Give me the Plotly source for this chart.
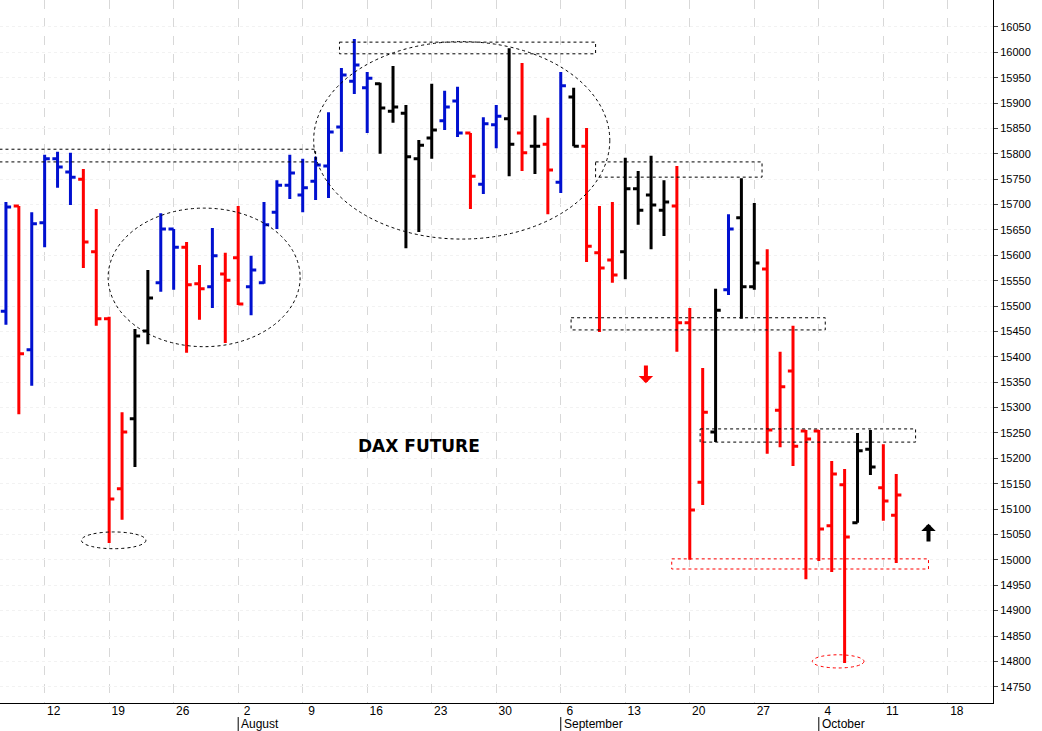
import pandas as pd
import plotly.graph_objects as go

# trading days, 7 Jul 2021 .. 12 Oct 2021
dates = pd.bdate_range("2021-07-07", periods=70)

opens = [15490, 15697, 15414, 15664, 15790, 15764, 15750, 15607, 15475, 15140,
         15278, 15451, 15546, 15652, 15616, 15544, 15538, 15563, 15595, 15538,
         15546, 15685, 15738, 15719, 15746, 15776, 15853, 15943, 15930, 15938,
         15884, 15880, 15790, 15831, 15865, 15904, 15841, 15740, 15857, 15869,
         15841, 15815, 15819, 15744, 15912, 15815, 15605, 15591, 15607, 15731,
         15719, 15689, 15697, 15467, 15153, 15252, 15532, 15674, 15538, 15573,
         15295, 15372, 15254, 15254, 15067, 15148, 15073, 15218, 15142, 15088]
highs = [15705, 15697, 15685, 15798, 15804, 15802, 15770, 15691, 15479, 15291,
         15455, 15571, 15683, 15652, 15626, 15581, 15654, 15605, 15697, 15599,
         15705, 15748, 15798, 15790, 15794, 15882, 15969, 16026, 15961, 15940,
         15973, 15896, 15827, 15938, 15924, 15932, 15841, 15872, 15896, 16008,
         15979, 15876, 15871, 15961, 15930, 15851, 15697, 15705, 15792, 15766,
         15796, 15748, 15776, 15496, 15378, 15534, 15681, 15752, 15703, 15612,
         15410, 15461, 15256, 15256, 15195, 15179, 15250, 15256, 15228, 15169]
lows = [15463, 15287, 15343, 15616, 15733, 15699, 15575, 15461, 15033, 15079,
        15183, 15425, 15528, 15532, 15408, 15473, 15496, 15427, 15502, 15482,
        15544, 15652, 15711, 15685, 15709, 15713, 15804, 15918, 15841, 15800,
        15861, 15614, 15646, 15790, 15847, 15833, 15691, 15721, 15811, 15756,
        15766, 15760, 15681, 15723, 15815, 15587, 15449, 15546, 15553, 15660,
        15612, 15638, 15410, 15000, 15108, 15232, 15522, 15475, 15532, 15209,
        15222, 15185, 14962, 14998, 14976, 14797, 15073, 15167, 15077, 14994]
closes = [15695, 15406, 15662, 15790, 15774, 15754, 15626, 15475, 15120, 15252,
          15441, 15516, 15652, 15616, 15542, 15534, 15599, 15551, 15504, 15571,
          15660, 15738, 15762, 15733, 15778, 15843, 15955, 15975, 15949, 15890,
          15892, 15794, 15817, 15847, 15892, 15841, 15756, 15859, 15874, 15819,
          15802, 15815, 15768, 15934, 15815, 15618, 15575, 15561, 15731, 15689,
          15699, 15705, 15467, 15098, 15291, 15492, 15652, 15538, 15585, 15256,
          15341, 15224, 15238, 15061, 15169, 15045, 15215, 15183, 15116, 15128]
# bar colour group: b = blue, r = red, k = black
groups = ("brbbbbrrrrkkbbrrbrrbbbbbbbbbbkkkkkbbrbbkrkrbkrrrkkkkrrrkbkkrrrrrrrkkrr")

colors = {"b": "#0010d0", "r": "#ff0000", "k": "#000000"}
y_ticks = list(range(14750, 16051, 50))
mondays = pd.date_range("2021-07-12", "2021-10-18", freq="7D")
months = [("August", "2021-08-02"), ("September", "2021-09-06"), ("October", "2021-10-04")]


def t(k):
    # fractional trading-day index -> timestamp
    i = int(k // 1)
    base = pd.Timestamp(dates[0]) + pd.offsets.BDay(i)
    return base + pd.Timedelta(days=k - i)


fig = go.Figure()
for g, c in colors.items():
    idx = [i for i, x in enumerate(groups) if x == g]
    fig.add_trace(go.Ohlc(
        x=[dates[i] for i in idx],
        open=[opens[i] for i in idx], high=[highs[i] for i in idx],
        low=[lows[i] for i in idx], close=[closes[i] for i in idx],
        increasing=dict(line=dict(color=c, width=3)),
        decreasing=dict(line=dict(color=c, width=3)),
        tickwidth=0.4, showlegend=False, hoverinfo="skip"))

dash = dict(color="black", width=1, dash="dot")
red_dash = dict(color="red", width=1, dash="dot")
boxes = [
    ("rect", -0.5, 24.0, 15809, 15784, dash),
    ("rect", 25.85, 45.7, 16020, 15997, dash),
    ("circle", 23.85, 46.8, 16021, 15632, dash),
    ("circle", 7.92, 22.8, 15693, 15420, dash),
    ("rect", 45.7, 58.6, 15784, 15754, dash),
    ("rect", 43.8, 63.5, 15477, 15453, dash),
    ("rect", 53.8, 70.5, 15258, 15232, dash),
    ("rect", 51.6, 71.5, 15002, 14982, red_dash),
    ("circle", 5.85, 10.85, 15055, 15022, dash),
    ("circle", 62.5, 66.5, 14813, 14787, red_dash),
]
for kind, k0, k1, y0, y1, ln in boxes:
    fig.add_shape(type=kind, x0=t(k0), x1=t(k1), y0=y0, y1=y1, line=ln, layer="above")

# arrows
fig.add_annotation(x=t(49.6), y=15348, ax=t(49.6), ay=15386, xref="x", yref="y",
                   axref="x", ayref="y", showarrow=True, arrowhead=1, arrowsize=0.6,
                   arrowwidth=4, arrowcolor="red", text="")
fig.add_annotation(x=t(71.5), y=15071, ax=t(71.5), ay=15033, xref="x", yref="y",
                   axref="x", ayref="y", showarrow=True, arrowhead=1, arrowsize=0.6,
                   arrowwidth=4, arrowcolor="black", text="")

fig.add_annotation(x=t(32), y=15225, text="<b>DAX FUTURE</b>", showarrow=False,
                   font=dict(family="DejaVu Sans", size=17, color="black"))

for name, d in months:
    fig.add_annotation(x=d, y=0, xref="x", yref="paper", yanchor="middle", yshift=-21,
                       xshift=1, text=name, showarrow=False, xanchor="left",
                       font=dict(family="Liberation Sans", size=12, color="black"))
    fig.add_shape(type="line", x0=d, x1=d, xref="x", yref="paper", y0=-0.02, y1=-0.04,
                  line=dict(color="black", width=1))

fig.update_layout(
    width=1042, height=731, margin=dict(l=0, r=49, t=0, b=28, autoexpand=False),
    paper_bgcolor="white", plot_bgcolor="white",
    font=dict(family="Liberation Sans", size=11, color="black"),
)
fig.update_xaxes(
    range=[t(-0.46), t(76.5)], rangeslider_visible=False,
    rangebreaks=[dict(bounds=["sat", "mon"])], automargin=False,
    tickvals=list(mondays), ticktext=[str(d.day) for d in mondays],
    ticklabelshift=9, ticklabelstandoff=-3, showgrid=True, gridcolor="#d8d8d8", griddash="dash",
    showline=True, linecolor="black", ticks="", tickfont=dict(size=12),
)
fig.update_yaxes(
    side="right", range=[14718, 16103], tickvals=y_ticks, tickformat="d",
    showgrid=True, gridcolor="#f2f2f2", griddash="dot", automargin=False,
    showline=True, linecolor="black", ticks="outside", ticklen=4,
    tickfont=dict(size=11), zeroline=False,
)

fig.write_html("out.html", config={"displayModeBar": False},
               post_script="document.body.style.margin='0';")
